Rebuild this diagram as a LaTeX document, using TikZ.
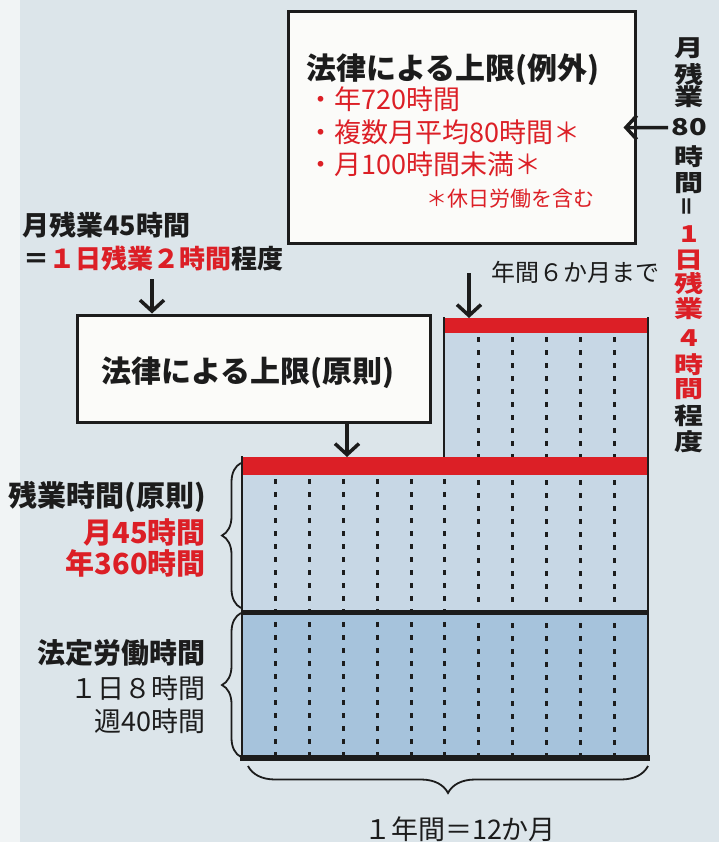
\documentclass[tikz,border=0pt]{standalone}
\usepackage{fontspec}
\setmainfont{Noto Sans CJK JP}
\usetikzlibrary{arrows.meta,decorations.pathreplacing}
\definecolor{bg}{HTML}{DCE5EA}
\definecolor{paper}{HTML}{F1F4F5}
\definecolor{lite}{HTML}{C7D7E5}
\definecolor{deep}{HTML}{A6C3DC}
\definecolor{rd}{HTML}{DC1F26}
\definecolor{ink}{HTML}{1C1C1C}
\definecolor{boxfill}{HTML}{FBFBF9}
\newcommand{\fs}[1]{\fontsize{#1}{#1}\selectfont}
\begin{document}
\begin{tikzpicture}[x=1pt,y=-1pt,
  txt/.style={inner sep=0pt, text=ink},
  boxstyle/.style={draw=ink, fill=boxfill, line width=3pt, inner sep=0pt},
  arr/.style={draw=ink, line width=3.5pt, -{Straight Barb[length=11pt,width=24pt]}},
  dashline/.style={draw=ink, line width=3pt, dash pattern=on 5pt off 8pt},
  brc/.style={draw=ink, line width=1.8pt, decorate, decoration={brace, amplitude=#1}},
  rcol/.style={inner sep=0pt, font=\fs{29}\bfseries, anchor=base},
]
\useasboundingbox (0,0) rectangle (719,842);
\fill[bg] (0,0) rectangle (719,842);
\fill[paper] (0,0) rectangle (20,842);

% chart fills
\fill[lite] (242,457) -- (444,457) -- (444,318) -- (648,318) -- (648,612) -- (242,612) -- cycle;
\fill[deep] (242,612) rectangle (648,758);
% dashed month lines
\foreach \k in {1,...,6} \draw[dashline] ({242+\k*33.83},479) -- ({242+\k*33.83},755);
\foreach \k in {7,...,11} \draw[dashline] ({242+\k*33.83},337) -- ({242+\k*33.83},755);
% red limit bars
\fill[rd] (242,457) rectangle (648,475);
\fill[rd] (444,318) rectangle (648,333);
% outlines
\draw[ink, line width=5pt] (242,612) -- (648,612);
\draw[ink, line width=6pt] (240,758) -- (650,758);
\draw[ink, line width=2.2pt] (242,456) -- (242,758);
\draw[ink, line width=2.2pt] (648,317) -- (648,758);
\draw[ink, line width=2.2pt] (444,317) -- (444,457);
\coordinate (ctop) at (347,457);
\coordinate (ttop) at (469,318);

% box exception
\node[boxstyle, minimum width=347pt, minimum height=231pt] (b1) at (461.5,127.5) {};
\node[txt, anchor=base west, font=\fs{30}\bfseries] (t1) at (306,80) {法律による上限(例外)};
\node[txt, anchor=base west, font=\fs{27}, text=rd] (e1) at (307,110) {・年720時間};
\node[txt, anchor=base west, font=\fs{27}, text=rd] (e2) at (307,143) {・複数月平均80時間＊};
\node[txt, anchor=base west, font=\fs{27}, text=rd] (e3) at (307,175) {・月100時間未満＊};
\node[txt, anchor=base west, font=\fs{21}, text=rd] (e4) at (426,207) {＊休日労働を含む};

% box principle
\node[boxstyle, minimum width=353pt, minimum height=107pt] (b2) at (253.5,368.5) {};
\node[txt, anchor=base, font=\fs{30}\bfseries] (t2) at (248,382) {法律による上限(原則)};

% top-left text
\node[txt, anchor=base west, font=\fs{27}\bfseries] (m1) at (22,236) {月残業45時間};
\node[txt, anchor=base west, font=\fs{26}\bfseries] (m2) at (23,268) {＝\textcolor{rd}{１日残業２時間}程度};
\coordinate (p1) at (152,279);
\draw[arr] (p1) -- (p1 |- b2.north);
\draw[arr] (ctop |- b2.south) -- (ctop);

% six months
\node[txt, anchor=base west, font=\fs{24}] (s6) at (491,281) {年間６か月まで};
\coordinate (p6) at (469,273);
\draw[arr] (p6) -- (ttop);

% right vertical column
\foreach \yy/\ch/\cl [count=\i] in {48/月/ink,75/残/ink,97/業/ink,127/80/ink,157/時/ink,183/間/ink,233/1/rd,259/日/rd,283/残/rd,308/業/rd,337/4/rd,364/時/rd,388/間/rd,415/程/ink,441/度/ink}
  \node[rcol, text=\cl] (r\i) at (689,\yy+9) {\scalebox{1}[0.8]{\ch}};
\node[inner sep=0pt, font=\fs{22}\bfseries, text=ink] (req) at (689,207) {\rotatebox{90}{＝}};
\draw[arr] ([xshift=-3pt]r4.west) -- ([xshift=-13pt]b1.east);

% left labels
\node[txt, anchor=base east, font=\fs{29}\bfseries] (l1) at (206,506) {残業時間(原則)};
\node[txt, anchor=base east, font=\fs{29}\bfseries, text=rd] (l2) at (206,543) {月45時間};
\node[txt, anchor=base east, font=\fs{29}\bfseries, text=rd] (l3) at (206,574) {年360時間};
\node[txt, anchor=base east, font=\fs{28}\bfseries] (l4) at (206,663) {法定労働時間};
\node[txt, anchor=base east, font=\fs{27}] (l5) at (206,698) {１日８時間};
\node[txt, anchor=base east, font=\fs{27}] (l6) at (206,731) {週40時間};

% braces
\draw[brc=19pt] (241,608) -- (241,463);
\draw[brc=19pt] (241,757) -- (241,613);
\draw[brc=27pt] (648,766) -- (248,766);
\node[txt, anchor=base, font=\fs{27}] (yr) at (460,839) {１年間＝12か月};
\end{tikzpicture}
\end{document}
